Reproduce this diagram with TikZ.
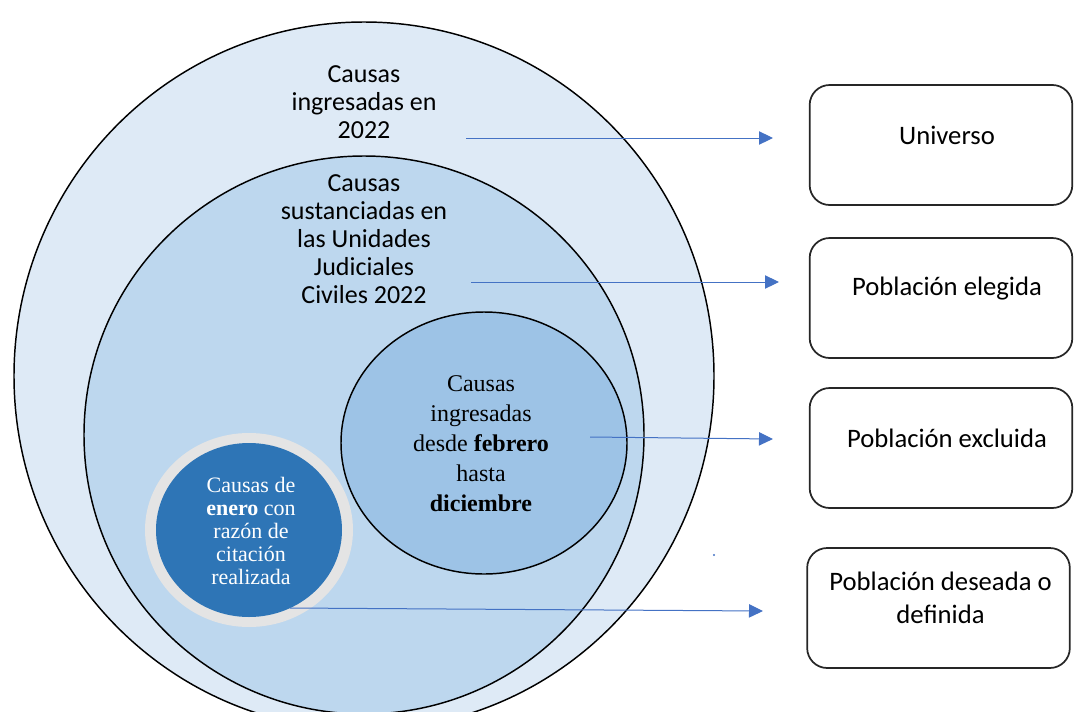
\documentclass[tikz,border=0pt]{standalone}
\usepackage{fontspec}
\setmainfont{Liberation Serif}
\newfontfamily\calibri{Carlito}
\usetikzlibrary{positioning,arrows.meta}
\definecolor{outerblue}{HTML}{DEEAF6}
\definecolor{midblue}{HTML}{BDD7EE}
\definecolor{innerblue}{HTML}{9DC3E6}
\definecolor{darkblue}{HTML}{2E75B6}
\definecolor{ringgray}{HTML}{E4E4E4}
\definecolor{arrowblue}{HTML}{4472C4}
\tikzset{%
  >={Triangle[length=10.5pt,width=10pt]},
  setline/.style={draw=black,line width=1.1pt},
  pointer/.style={->,draw=arrowblue,line width=0.75pt},
  labelbox/.style={draw=black!85,line width=1.3pt,rounded corners=15pt,
    minimum width=197pt,minimum height=90pt,inner sep=0pt},
  boxtext/.style={align=center,font=\calibri\fontsize{20}{24.5}\selectfont},
  sanstext/.style={align=center,font=\calibri\fontsize{19.5}{21}\selectfont},
  serftext/.style={align=center,font=\fontsize{18}{22.5}\selectfont},
  whitetext/.style={align=center,text=white,font=\fontsize{16.5}{17.3}\selectfont}
}
\begin{document}
\begin{tikzpicture}[x=0.75pt,y=-0.75pt]
	\useasboundingbox (0,0) rectangle (1075,711);
	\clip (0,0) rectangle (1075,711);
	
	%% nested sets
	\fill[outerblue] (364,376) ellipse [x radius=350, y radius=354];
	\draw[setline] (364,376) ellipse [x radius=350, y radius=354];
	\fill[midblue] (364,435) ellipse [x radius=280, y radius=279];
	\draw[setline] (364,435) ellipse [x radius=280, y radius=279];
	\fill[innerblue] (484,443) ellipse [x radius=143, y radius=131];
	\draw[setline] (484,443) ellipse [x radius=143, y radius=131];
	\fill[ringgray] (249,530) ellipse [x radius=104, y radius=97];
	\fill[darkblue] (249,530) ellipse [x radius=93, y radius=87];
	\fill[arrowblue] (714,555) circle (1.2); % stray dot
	
	%% set labels
	\node[sanstext] (ingresadas) at (364,102) {Causas\\ingresadas en\\2022};
	\node[sanstext] (sustanciadas) at (364,239) {Causas\\sustanciadas en\\las Unidades\\Judiciales\\Civiles 2022};
	\node[serftext] (febrero) at (481,444) {Causas\\ingresadas\\desde \textbf{febrero}\\hasta\\\textbf{diciembre}};
	\node[whitetext] (enero) at (251,531) {Causas de\\\textbf{enero} con\\razón de\\citación\\realizada};
	
	%% boxes on the right
	\node[labelbox] (universo) at (941,145) {};
	\node[labelbox] (elegida) at (941,298) {};
	\node[labelbox] (excluida) at (941,448) {};
	\node[labelbox] (deseada) at (938.5,608) {};
	\node[boxtext] (universo-txt) at ([xshift=4.5pt,yshift=7.5pt]universo.center) {Universo};
	\node[boxtext] (elegida-txt) at ([xshift=4.5pt,yshift=7pt]elegida.center) {Población elegida};
	\node[boxtext] (excluida-txt) at ([xshift=4.5pt,yshift=7.5pt]excluida.center) {Población excluida};
	\node[boxtext] (deseada-txt) at ([xshift=1.5pt,yshift=7.5pt]deseada.center) {Población deseada o\\definida};
	
	%% pointers
	\coordinate (a1) at (466,138);
	\coordinate (b1) at (773,138);
	\coordinate (a2) at (471,282);
	\coordinate (b2) at (779,282);
	\coordinate (a3) at (590,437);
	\coordinate (b3) at (773,439);
	\coordinate (a4) at (290,608);
	\coordinate (b4) at (763,611);
	\draw[pointer] (a1) -- (b1);
	\draw[pointer] (a2) -- (b2);
	\draw[pointer] (a3) -- (b3);
	\draw[pointer] (a4) -- (b4);
\end{tikzpicture}
\end{document}
